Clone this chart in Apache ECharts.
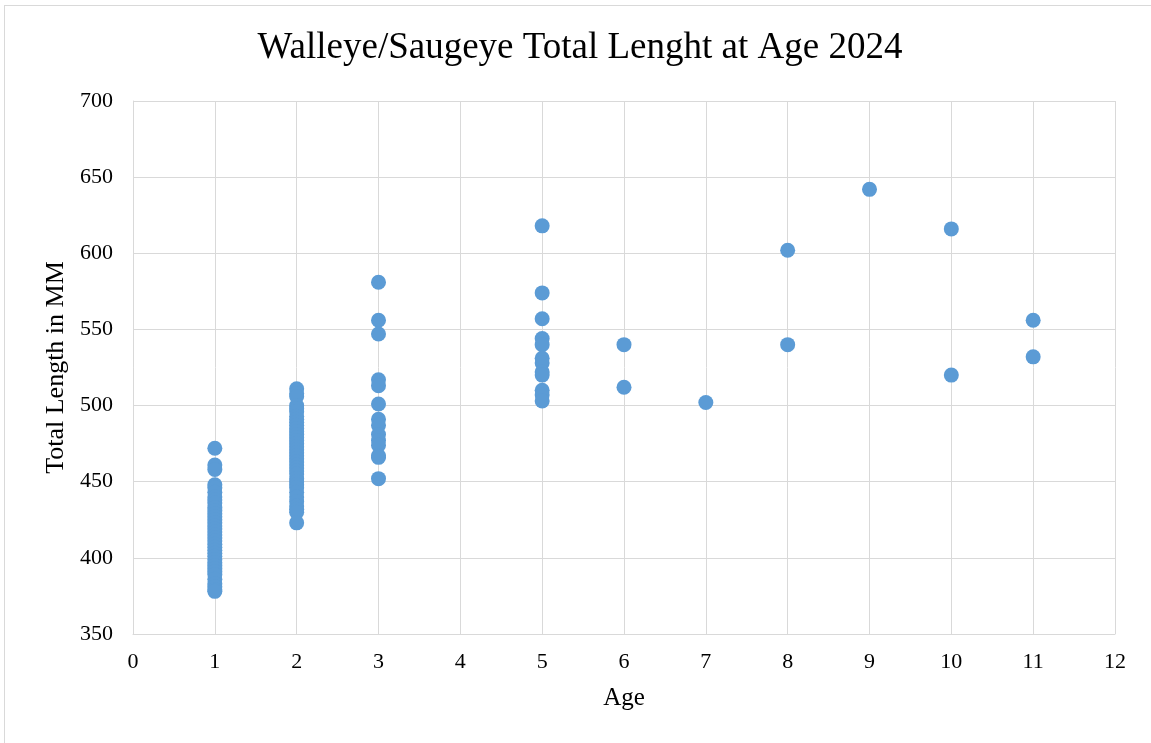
<!DOCTYPE html>
<html>
<head>
<meta charset="utf-8">
<script src="https://cdn.jsdelivr.net/npm/echarts@6/dist/echarts.min.js"></script>
<style>
html,body{margin:0;padding:0;background:#fff;overflow:hidden;}
#frame{position:absolute;left:4px;top:5px;width:1200px;height:800px;border:1px solid #d9d9d9;box-sizing:border-box;}
#chart{position:absolute;left:0;top:0;width:1151px;height:743px;}
</style>
</head>
<body>
<div id="frame"></div>
<div id="chart"></div>
<script>
const chartTitle = "Walleye/Saugeye Total Lenght at Age 2024";
const xAxisName = "Age";
const yAxisName = "Total Length in MM";
const age1 = [472, 461, 458, 448, 446, 443, 440, 438, 436, 433, 431, 429, 427, 425, 423, 421, 419, 417, 415, 413, 411, 409, 407, 405, 403, 401, 399, 397, 395, 393, 391, 389, 386, 383, 381, 379, 378];
const age2 = [511, 508, 506, 500, 498, 496, 493, 491, 489, 487, 485, 483, 481, 479, 477, 475, 473, 471, 469, 467, 465, 463, 461, 459, 457, 455, 452, 450, 448, 446, 443, 440, 437, 434, 432, 430, 423];
const age3 = [581, 556, 547, 517, 513, 501, 491, 487, 481, 477, 474, 467, 466, 452];
const age5 = [618, 574, 557, 544, 540, 531, 528, 522, 520, 510, 507, 503];
const age6 = [540, 512];
const age7 = [502];
const age8 = [602, 540];
const age9 = [642];
const age10 = [616, 520];
const age11 = [556, 532];
const groups = [[1, age1], [2, age2], [3, age3], [5, age5], [6, age6], [7, age7], [8, age8], [9, age9], [10, age10], [11, age11]];

const points = [];
groups.forEach(([age, vals]) => vals.forEach(v => points.push([age, v])));

const font = "'Liberation Serif', 'Times New Roman', serif";
const chart = echarts.init(document.getElementById('chart'), null, {renderer: 'canvas'});
chart.setOption({
  animation: false,
  backgroundColor: 'transparent',
  graphic: [{
    type: 'text', x: 580, y: 30,
    style: {text: chartTitle, fontFamily: font, fontSize: 37, fill: '#000', align: 'center', verticalAlign: 'top'}
  }],
  grid: {left: 133, right: 36, top: 101, bottom: 109},
  xAxis: {
    type: 'value', min: 0, max: 12, interval: 1,
    name: xAxisName, nameLocation: 'middle', nameGap: 52,
    nameTextStyle: {fontFamily: font, fontSize: 25, color: '#000'},
    axisLine: {show: true, lineStyle: {color: '#d9d9d9', width: 1}},
    axisTick: {show: false},
    axisLabel: {fontFamily: font, fontSize: 22, color: '#000', margin: 17},
    splitLine: {show: true, lineStyle: {color: '#d9d9d9', width: 1}}
  },
  yAxis: {
    type: 'value', min: 350, max: 700, interval: 50,
    name: yAxisName, nameLocation: 'middle', nameGap: 64,
    nameTextStyle: {fontFamily: font, fontSize: 26, color: '#000'},
    axisLine: {show: true, lineStyle: {color: '#d9d9d9', width: 1}},
    axisTick: {show: false},
    axisLabel: {fontFamily: font, fontSize: 22, color: '#000', margin: 20},
    splitLine: {show: true, lineStyle: {color: '#d9d9d9', width: 1}}
  },
  series: [{
    type: 'scatter',
    data: points,
    symbol: 'circle',
    symbolSize: 15,
    itemStyle: {color: '#5B9BD5', opacity: 1}
  }]
});
</script>
</body>
</html>
